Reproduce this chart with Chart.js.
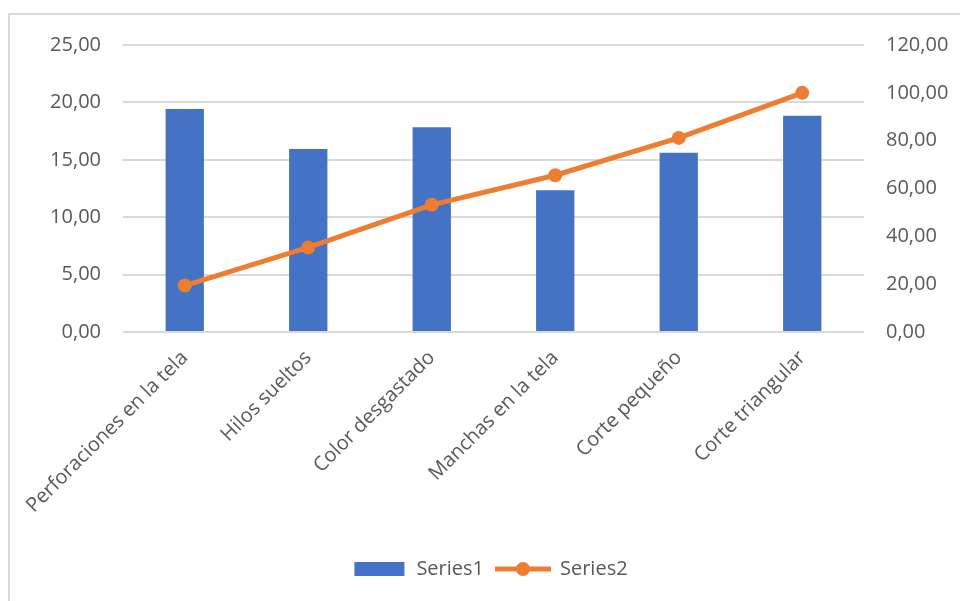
<!DOCTYPE html>
<html>
<head>
<meta charset="utf-8">
<script src="https://cdn.jsdelivr.net/npm/chart.js@4.4.1/dist/chart.umd.min.js"></script>
<style>
    html, body { margin: 0; padding: 0; background: #fff; overflow: hidden; }
    #frame {
        position: absolute;
        left: 8px;
        top: 13px;
        width: 960px;
        height: 600px;
        border: 2px solid #d9d9d9;
        background: #fff;
    }
    #paretoChart { display: block; margin-top: -4px; }
</style>
</head>
<body>
<div id="frame">
    <canvas id="paretoChart" width="960" height="588"></canvas>
</div>
<script>
const categories = [
    'Perforaciones en la tela',
    'Hilos sueltos',
    'Color desgastado',
    'Manchas en la tela',
    'Corte pequeño',
    'Corte triangular'
];
const series1 = [19.42, 15.94, 17.83, 12.35, 15.62, 18.84];
const series2 = [19.42, 35.36, 53.19, 65.54, 81.16, 100.00];
const leftTicks = [0, 5, 10, 15, 20, 25];
const rightTicks = [0, 20, 40, 60, 80, 100, 120];

const BLUE = '#4472C4';
const ORANGE = '#ED7D31';
const GREY_TEXT = '#595959';
const GRID = '#d9d9d9';
const FONT = "'Open Sans', sans-serif";

const fmt = v => Number(v).toFixed(2).replace('.', ',');

// small canvases used as legend markers
function makeIcon(draw) {
    const c = document.createElement('canvas');
    c.width = 56;
    c.height = 16;
    draw(c.getContext('2d'));
    return c;
}
const barIcon = makeIcon(ctx => {
    ctx.fillStyle = BLUE;
    ctx.fillRect(3, 1, 50, 14);
});
const lineIcon = makeIcon(ctx => {
    ctx.strokeStyle = ORANGE;
    ctx.lineWidth = 5;
    ctx.beginPath();
    ctx.moveTo(0, 8);
    ctx.lineTo(56, 8);
    ctx.stroke();
    ctx.fillStyle = ORANGE;
    ctx.beginPath();
    ctx.arc(28, 8, 7, 0, Math.PI * 2);
    ctx.fill();
});
const legendIcons = [barIcon, lineIcon];

new Chart(document.getElementById('paretoChart'), {
    data: {
        labels: categories,
        datasets: [{
            type: 'bar',
            label: 'Series1',
            data: series1,
            backgroundColor: BLUE,
            yAxisID: 'y',
            categoryPercentage: 1,
            barPercentage: 0.31,
            order: 2
        }, {
            type: 'line',
            label: 'Series2',
            data: series2,
            borderColor: ORANGE,
            backgroundColor: ORANGE,
            borderWidth: 5,
            pointRadius: 6,
            pointBorderWidth: 2,
            pointBackgroundColor: ORANGE,
            pointBorderColor: ORANGE,
            tension: 0,
            yAxisID: 'y1',
            order: 1
        }]
    },
    options: {
        responsive: false,
        animation: false,
        layout: {
            padding: { top: 21, left: 0, right: 0, bottom: 10 }
        },
        plugins: {
            tooltip: { enabled: false },
            legend: {
                position: 'bottom',
                labels: {
                    usePointStyle: true,
                    pointStyleWidth: 54,
                    boxHeight: 16,
                    padding: 12,
                    color: GREY_TEXT,
                    font: { family: FONT, size: 20 },
                    generateLabels: chart => chart.data.datasets.map((ds, i) => ({
                        text: ds.label,
                        pointStyle: legendIcons[i],
                        fillStyle: ds.backgroundColor,
                        strokeStyle: ds.borderColor,
                        lineWidth: 0,
                        hidden: false,
                        fontColor: GREY_TEXT,
                        datasetIndex: i
                    }))
                }
            }
        },
        scales: {
            x: {
                grid: { display: false },
                border: { display: false },
                ticks: {
                    color: GREY_TEXT,
                    font: { family: FONT, size: 20 },
                    minRotation: 45,
                    maxRotation: 45,
                    padding: 6
                },
                afterFit: scale => { scale.height = 215; }
            },
            y: {
                position: 'left',
                min: 0,
                max: 25,
                afterBuildTicks: scale => {
                    scale.ticks = leftTicks.map(v => ({ value: v }));
                },
                grid: { color: GRID, lineWidth: 2, drawTicks: false },
                border: { display: false },
                ticks: {
                    color: GREY_TEXT,
                    font: { family: FONT, size: 20 },
                    padding: 22,
                    callback: v => fmt(v)
                },
                afterFit: scale => { scale.width = 113; }
            },
            y1: {
                position: 'right',
                min: 0,
                max: 120,
                afterBuildTicks: scale => {
                    scale.ticks = rightTicks.map(v => ({ value: v }));
                },
                grid: { display: false, drawTicks: false },
                border: { display: false },
                ticks: {
                    color: GREY_TEXT,
                    font: { family: FONT, size: 20 },
                    padding: 22,
                    callback: v => fmt(v)
                },
                afterFit: scale => { scale.width = 106; }
            }
        }
    }
});
</script>
</body>
</html>
